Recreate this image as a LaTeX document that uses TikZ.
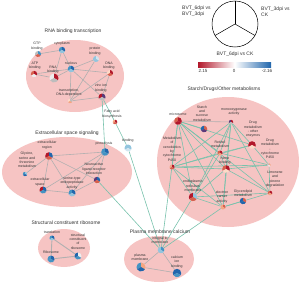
\documentclass[tikz,border=0pt]{standalone}
\usepackage{fontspec}
\setmainfont{Liberation Sans}
\pgfdeclarelayer{bg}
\pgfdeclarelayer{edges}
\pgfsetlayers{bg,edges,main}
\definecolor{pinkfill}{RGB}{246,196,195}
\definecolor{gline}{RGB}{176,176,176}
\definecolor{tline}{RGB}{120,194,172}
\definecolor{txt}{RGB}{50,50,50}
\definecolor{rdk}{HTML}{B2182B}
\definecolor{rmd}{HTML}{D6604D}
\definecolor{rpk}{HTML}{F4A582}
\definecolor{rlt}{HTML}{FDDBC7}
\definecolor{wht}{HTML}{EDEDED}
\definecolor{blt}{HTML}{D1E5F0}
\definecolor{blm}{HTML}{92C5DE}
\definecolor{bmd}{HTML}{4393C3}
\definecolor{bdk}{HTML}{2166AC}
\definecolor{gry}{HTML}{BDBDBD}
\definecolor{prp}{HTML}{5A3A7A}
\newcommand{\pienode}[6]{%
  \node[circle,inner sep=0pt,minimum size=#3*2pt] (#1) at (#2) {};
  \fill[#4] (#1.center) -- ++(90:#3pt) arc[start angle=90,end angle=210,radius=#3pt] -- cycle;
  \fill[#5] (#1.center) -- ++(90:#3pt) arc[start angle=90,end angle=-30,radius=#3pt] -- cycle;
  \fill[#6] (#1.center) -- ++(210:#3pt) arc[start angle=210,end angle=330,radius=#3pt] -- cycle;
}
\tikzset{
  lbl/.style={font=\fontsize{3.5}{4.3}\selectfont, align=center, inner sep=0pt, text=txt},
  ttl/.style={font=\fontsize{5}{6}\selectfont, inner sep=0pt, text=txt},
  leg/.style={font=\fontsize{5}{5.6}\selectfont, inner sep=0pt, text=txt, align=left},
  gedge/.style={draw=gline, line width=0.6pt},
  tedge/.style={draw=tline, line width=0.6pt},
  clus/.style={fill=pinkfill}
}
\begin{document}
\begin{tikzpicture}[x=1pt,y=-1pt]
\useasboundingbox (0,0) rectangle (300,284);
% clusters
\begin{pgfonlayer}{bg}
\fill[clus] (75,76) ellipse [x radius=49pt, y radius=36pt];
\fill[clus] (67,172) ellipse [x radius=65pt, y radius=35pt];
\fill[clus] (64,248) ellipse [x radius=26pt, y radius=19pt];
\fill[clus] (159,259) ellipse [x radius=35pt, y radius=23pt];
\fill[clus] (228,162) ellipse [x radius=71pt, y radius=65pt];
\end{pgfonlayer}
% titles
\node[ttl] (t-rna) at (73,31) {RNA binding transcription};
\node[ttl] (t-ext) at (67,133) {Extracellular space signaling};
\node[ttl] (t-rib) at (66,223) {Structural constituent ribosome};
\node[ttl] (t-pla) at (160,232) {Plasma membrane calcium};
\node[ttl] (t-sta) at (224,89) {Starch/Drugs/Other metabolisms};
% legend
\node[circle, draw=black, line width=0.5pt, fill=white, minimum size=46pt, inner sep=0pt] (legc) at (235,24) {};
\draw[line width=0.5pt] (legc.center) -- (legc.90);
\draw[line width=0.5pt] (legc.center) -- (legc.210);
\draw[line width=0.5pt] (legc.center) -- (legc.330);
\node[leg, anchor=west] (leg1) at (182,11.5) {BVT\_6dpi vs\\BVT\_3dpi};
\node[leg, anchor=west] (leg2) at (261,11.5) {BVT\_3dpi vs\\CK};
\node[leg] (leg3) at (235,54) {BVT\_6dpi vs CK};
\shade[left color=rdk, right color=bdk, middle color=white] (198,62) rectangle (271,67);
\node[leg, font=\fontsize{4.5}{5}\selectfont] (cb1) at (203,71) {2.15};
\node[leg, font=\fontsize{4.5}{5}\selectfont] (cb2) at (234,71) {0};
\node[leg, font=\fontsize{4.5}{5}\selectfont] (cb3) at (267,71) {-2.16};
% RNA cluster nodes
\pienode{gtp}{38,54}{3}{gry}{bmd}{rmd}
\pienode{cyt}{62,50}{3.2}{bmd}{bdk}{blm}
\pienode{pro}{96,59}{3}{blm}{blt}{blm}
\pienode{atp}{34,74}{3.2}{rmd}{rdk}{wht}
\pienode{rna}{54,78}{4.5}{wht}{rdk}{gry}
\pienode{nuc}{71,69}{3.3}{bmd}{bdk}{blm}
\pienode{dna}{110,73}{3}{rlt}{rdk}{rmd}
\pienode{zin}{102,97}{3.5}{rdk}{prp}{gry}
\pienode{tra}{70,101}{2.2}{rlt}{gry}{rpk}
\node[lbl] (l-gtp) at (37,46) {GTP\\binding};
\node[lbl] (l-cyt) at (62,44) {cytoplasm};
\node[lbl] (l-pro) at (95,51) {protein\\binding};
\node[lbl] (l-atp) at (35,65.5) {ATP\\binding};
\node[lbl] (l-rna) at (53,69.5) {RNA\\binding};
\node[lbl] (l-nuc) at (71,63) {nucleus};
\node[lbl] (l-dna) at (109,65.5) {DNA\\binding};
\node[lbl] (l-zin) at (101,88) {zinc ion\\binding};
\node[lbl] (l-tra) at (69,92.5) {transcription,\\DNA-dependent};
% free nodes
\pienode{fat}{115,122}{2.3}{rpk}{rdk}{rmd}
\node[lbl] (l-fat) at (112,114) {Fatty acid\\biosynthesis};
\pienode{bin}{128,148}{3.5}{blm}{blm}{blt}
\node[lbl] (l-bin) at (128,141) {binding};
% Extracellular
\pienode{exr}{49,156}{3.8}{rdk}{bdk}{rmd}
\pienode{glc}{25,174}{2.2}{bmd}{blm}{bdk}
\pienode{prl}{105,152}{3.8}{bmd}{bdk}{bmd}
\pienode{neu}{97,180}{3.2}{prp}{bdk}{rmd}
\pienode{exs}{43,190}{3.5}{rdk}{bdk}{bmd}
\pienode{ser}{72,193}{3.5}{bmd}{bdk}{blm}
\node[lbl] (l-exr) at (47,145) {extracellular\\region};
\node[lbl] (l-glc) at (27,160) {Glycine,\\serine and\\threonine\\metabolism};
\node[lbl] (l-prl) at (104,144) {proteolysis};
\node[lbl] (l-neu) at (94,169) {Neuroactive\\ligand-receptor\\interaction};
\node[lbl] (l-exs) at (40,182) {extracellular\\space};
\node[lbl] (l-ser) at (72,183) {serine-type\\endopeptidase\\activity};
% Ribosome
\pienode{trl}{52,238}{2.5}{bmd}{bdk}{blm}
\pienode{str}{78,256}{3.5}{bdk}{wht}{bmd}
\pienode{ribo}{51,259}{3.5}{bmd}{bdk}{bmd}
\node[lbl] (l-trl) at (52,232) {translation};
\node[lbl] (l-str) at (78,241.5) {structural\\constituent\\of\\ribosome};
\node[lbl] (l-ribo) at (51,252) {Ribosome};
% Plasma membrane
\pienode{int}{161,250}{3.3}{blm}{bmd}{blm}
\pienode{plm}{141,267}{4.5}{bmd}{rpk}{bdk}
\pienode{cal}{177,273}{4.2}{bdk}{bdk}{bmd}
\node[lbl] (l-int) at (160,240) {integral to\\membrane};
\node[lbl] (l-plm) at (140,257) {plasma\\membrane};
\node[lbl] (l-cal) at (177,262) {calcium\\ion\\binding};
% Starch
\pienode{mic}{178,121}{3.8}{rmd}{rdk}{rdk}
\pienode{sta}{204,129}{3.3}{bdk}{rmd}{prp}
\pienode{mon}{231,122}{2.2}{prp}{rdk}{gry}
\pienode{dro}{252,145}{3.8}{rdk}{rdk}{rlt}
\pienode{drp}{269,165}{1.8}{gry}{rpk}{wht}
\pienode{xen}{172,167}{2.5}{rpk}{rdk}{rmd}
\pienode{ret}{220,153}{2.5}{rmd}{rdk}{rpk}
\pienode{hem}{226,169}{3.8}{rmd}{rdk}{rlt}
\pienode{lim}{270,193}{2.3}{rmd}{rdk}{rpk}
\pienode{er}{193,197}{4.2}{rdk}{blm}{rmd}
\pienode{ele}{223,207}{2.5}{rpk}{rmd}{rpk}
\pienode{gly}{243,201}{3.2}{bdk}{rmd}{bdk}
\node[lbl] (l-mic) at (178,114) {microsome};
\node[lbl] (l-sta) at (202,113.5) {Starch\\and\\sucrose\\metabolism};
\node[lbl] (l-mon) at (234,112) {monooxygenase\\activity};
\node[lbl] (l-dro) at (253,129.5) {Drug\\metabolism\\- other\\enzymes};
\node[lbl] (l-drp) at (270,149) {Drug\\metabolism\\-\\cytochrome\\P450};
\node[lbl] (l-xen) at (172,149) {Metabolism\\of\\xenobiotics\\by\\cytochrome\\P450};
\node[lbl] (l-ret) at (220,144) {Retinol\\metabolism};
\node[lbl] (l-hem) at (225,160.5) {heme\\binding};
\node[lbl] (l-lim) at (275,179) {Limonene\\and\\pinene\\degradation};
\node[lbl] (l-er) at (193,186) {endoplasmic\\reticulum\\membrane};
\node[lbl] (l-ele) at (222,197) {electron\\carrier\\activity};
\node[lbl] (l-gly) at (243,193.5) {Glycerolipid\\metabolism};
% edges
\begin{pgfonlayer}{edges}
% RNA
\draw[gedge] (gtp) -- (cyt);
\draw[gedge] (cyt) -- (nuc);
\draw[gedge] (cyt) -- (rna);
\draw[gedge] (atp) -- (rna);
\draw[gedge] (atp) -- (nuc);
\draw[gedge] (rna) -- (nuc);
\draw[gedge] (nuc) -- (pro);
\draw[gedge] (nuc) -- (dna);
\draw[gedge] (nuc) -- (zin);
\draw[gedge] (nuc) -- (tra);
\draw[gedge] (dna) -- (zin);
\draw[gedge] (dna) -- (tra);
\draw[gedge] (pro) -- (tra);
\draw[gedge] (zin) -- (tra);
% extracellular
\draw[gedge] (exr) -- (prl);
\draw[gedge] (exr) -- (glc);
\draw[gedge] (exr) -- (exs);
\draw[gedge] (exr) -- (ser);
\draw[gedge] (exr) -- (neu);
\draw[gedge] (prl) -- (neu);
\draw[gedge] (prl) -- (ser);
\draw[gedge] (prl) -- (exs);
\draw[gedge] (exs) -- (ser);
\draw[gedge] (ser) -- (neu);
% ribosome
\draw[gedge, line width=0.9pt] (trl) -- (str);
\draw[gedge, line width=0.9pt] (trl) -- (ribo);
\draw[gedge, line width=0.9pt] (ribo) -- (str);
% plasma
\draw[gedge] (int) -- (plm);
\draw[gedge] (int) -- (cal);
\draw[gedge] (plm) -- (cal);
% cross
\draw[tedge] (zin) -- (prl);
\draw[tedge] (zin) -- (fat);
\draw[tedge] (fat) -- (bin);
\draw[tedge] (bin) -- (int);
\draw[tedge] (neu) -- (int);
\draw[tedge] (mic) -- (int);
\draw[tedge] (er) -- (int);
\draw[tedge] (ele) -- (int);
% starch
\draw[gedge] (mic) -- (mon);
\foreach \a/\b in {mic/xen,mic/ret,mic/hem,mic/er,mic/ele,mic/dro,mic/lim,
  mon/xen,mon/ret,mon/hem,mon/dro,mon/er,mon/ele,mon/lim,
  xen/ret,xen/hem,xen/drp,xen/er,xen/ele,xen/dro,
  ret/hem,ret/dro,ret/drp,hem/drp,hem/lim,hem/er,hem/ele,
  dro/drp,drp/lim,lim/ele,lim/er,er/ele,ele/gly,sta/mic,ret/er}
  {\draw[tedge] (\a) -- (\b);}
\end{pgfonlayer}
\end{tikzpicture}
\end{document}
